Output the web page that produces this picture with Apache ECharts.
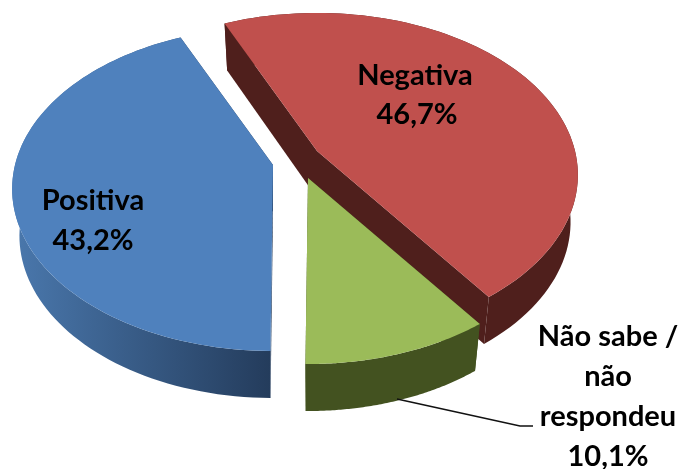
<!DOCTYPE html>
<html>
<head>
<meta charset="utf-8">
<style>html,body{margin:0;padding:0;background:#fff}#c{width:682px;height:469px}</style>
<script src="https://cdn.jsdelivr.net/npm/echarts@6/dist/echarts.min.js"></script>
</head>
<body>
<div id="c"></div>
<script>
// Data (clockwise from the upper left)
var categories = ['Negativa', 'Não sabe /\nnão\nrespondeu', 'Positiva'];
var values = [46.7, 10.1, 43.2];

// Layout and style, per slice in the same order
var apexes = [[317, 151], [308, 178], [273, 165]];
var labelPos = [[415, 76], [608, 337], [93, 201]];
var valuePos = [[417, 115], [608, 457], [93, 241]];
var topColors = ['#c0504d', '#9bbb59', '#4f81bd'];
var wallColors = [
  ['#4f1f1c', '#4f1f1c'],
  ['#435220', '#435220'],
  ['#4a78ad', '#243c5c']
];
var RX = 258, RY = 158.5, PERSP = 0.148, DEPTH = 47, START_DEG = -24, BOTTOM_SHRINK = 0.972;
var FONT = 'bold 29px Lato, "Open Sans", sans-serif';

function project(apex, deg) {
  var t = deg * Math.PI / 180, c = Math.cos(t), d = 1 + PERSP * c;
  return [apex[0] + RX * Math.sin(t) / d, apex[1] - RY * c / d];
}
function total() { return values.reduce(function (a, b) { return a + b; }, 0); }

function renderItem(params, api) {
  var i = params.dataIndex, apex = apexes[i], sum = total();
  var before = 0;
  for (var k = 0; k < i; k++) before += values[k];
  var a0 = START_DEG + before / sum * 360;
  var a1 = a0 + api.value(0) / sum * 360;
  var arc = [], n = 90;
  for (var s = 0; s <= n; s++) arc.push(project(apex, a0 + (a1 - a0) * s / n));
  var down = function (p) {
    return [apex[0] + (p[0] - apex[0]) * BOTTOM_SHRINK, p[1] + DEPTH];
  };
  var first = arc[0], last = arc[n];
  var wallOuter = arc.concat(arc.slice().reverse().map(down));
  var wallFill = new echarts.graphic.LinearGradient(0, 0, 1, 0, [
    { offset: 0, color: wallColors[i][0] }, { offset: 1, color: wallColors[i][1] }
  ]);
  var flat = wallColors[i][1];
  var kids = [
    { type: 'polygon', shape: { points: [first, apex, down(apex), down(first)] }, style: { fill: flat } },
    { type: 'polygon', shape: { points: [last, apex, down(apex), down(last)] }, style: { fill: flat } },
    { type: 'polygon', shape: { points: wallOuter }, style: { fill: wallFill } },
    { type: 'polygon', shape: { points: [apex].concat(arc) }, style: { fill: topColors[i] } }
  ];
  var lines = categories[i].split('\n');
  var lineGap = 40;
  lines.forEach(function (txt, j) {
    kids.push({ type: 'text', style: {
      x: labelPos[i][0], y: labelPos[i][1] + j * lineGap, text: txt, font: FONT,
      fill: '#000', textAlign: 'center', textVerticalAlign: 'middle'
    } });
  });
  kids.push({ type: 'text', style: {
    x: valuePos[i][0], y: valuePos[i][1], text: api.value(0).toFixed(1).replace('.', ',') + '%', font: FONT,
    fill: '#000', textAlign: 'center', textVerticalAlign: 'middle'
  } });
  if (i === 1) {
    kids.push({ type: 'polyline', shape: { points: [[397, 399], [520, 426], [533, 426]] },
      style: { fill: null, stroke: '#111', lineWidth: 1.5 } });
  }
  return { type: 'group', children: kids };
}

var chart = echarts.init(document.getElementById('c'), null, { renderer: 'canvas' });
chart.setOption({
  animation: false,
  backgroundColor: '#fff',
  series: [{
    type: 'custom',
    coordinateSystem: 'none',
    silent: true,
    renderItem: renderItem,
    data: values.map(function (v) { return [v]; })
  }]
});
</script>
</body>
</html>
